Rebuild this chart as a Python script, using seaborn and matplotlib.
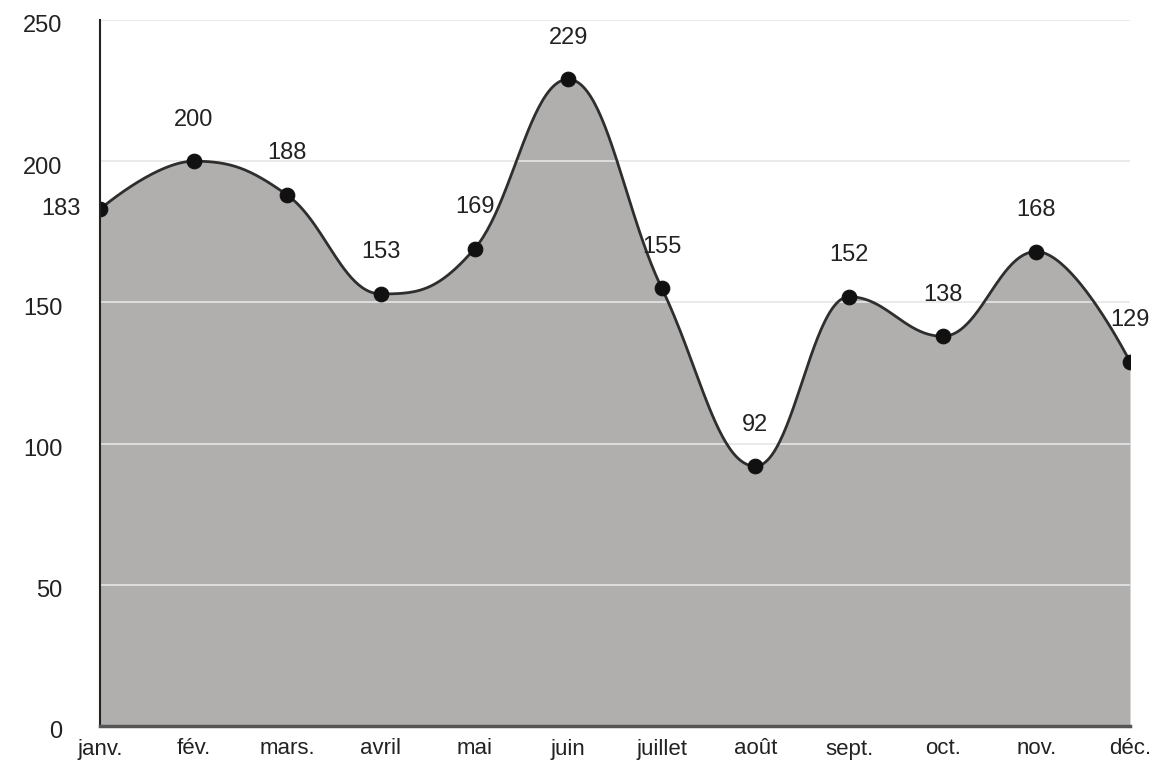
import numpy as np
import pandas as pd
import matplotlib
matplotlib.use("Agg")
import matplotlib.pyplot as plt
import matplotlib.transforms as mtransforms
import seaborn as sns

# Data

months = ["janv.", "fév.", "mars.", "avril", "mai", "juin",
          "juillet", "août", "sept.", "oct.", "nov.", "déc."]
values = [183, 200, 188, 153, 169, 229, 155, 92, 152, 138, 168, 129]
y_ticks = [0, 50, 100, 150, 200, 250]

sns.set_theme(style="white")
plt.rcParams["font.family"] = ["Liberation Sans", "DejaVu Sans"]


def spline_curve(x, y, n=50, smoothing=1.5):
    # bezier spline with flattened control points at local extremes
    x = np.asarray(x, float)
    y = np.asarray(y, float)
    k = len(x)
    denom = smoothing + 1
    lx, ly = x.copy(), y.copy()
    rx, ry = x.copy(), y.copy()
    for i in range(1, k - 1):
        lcx = (smoothing * x[i] + x[i - 1]) / denom
        lcy = (smoothing * y[i] + y[i - 1]) / denom
        rcx = (smoothing * x[i] + x[i + 1]) / denom
        rcy = (smoothing * y[i] + y[i + 1]) / denom
        corr = (rcy - lcy) * (rcx - x[i]) / (rcx - lcx) + y[i] - rcy
        lcy += corr
        rcy += corr
        if lcy > y[i - 1] and lcy > y[i]:
            lcy = max(y[i - 1], y[i])
            rcy = 2 * y[i] - lcy
        elif lcy < y[i - 1] and lcy < y[i]:
            lcy = min(y[i - 1], y[i])
            rcy = 2 * y[i] - lcy
        if rcy > y[i + 1] and rcy > y[i]:
            rcy = max(y[i + 1], y[i])
            lcy = 2 * y[i] - rcy
        elif rcy < y[i + 1] and rcy < y[i]:
            rcy = min(y[i + 1], y[i])
            lcy = 2 * y[i] - rcy
        lx[i], ly[i], rx[i], ry[i] = lcx, lcy, rcx, rcy
    xs, ys = [], []
    for i in range(k - 1):
        t = np.linspace(0, 1, n, endpoint=(i == k - 2))[:, None]
        p0 = np.array([x[i], y[i]])
        p1 = np.array([rx[i], ry[i]])
        p2 = np.array([lx[i + 1], ly[i + 1]])
        p3 = np.array([x[i + 1], y[i + 1]])
        pts = ((1 - t) ** 3) * p0 + 3 * ((1 - t) ** 2) * t * p1 \
            + 3 * (1 - t) * t ** 2 * p2 + t ** 3 * p3
        xs.append(pts[:, 0])
        ys.append(pts[:, 1])
    return np.concatenate(xs), np.concatenate(ys)


df = pd.DataFrame({"pos": np.arange(len(months)), "value": values})
cx, cy = spline_curve(df["pos"], df["value"])
curve = pd.DataFrame({"pos": cx, "value": cy})

fig = plt.figure(figsize=(11.53, 7.6), dpi=100)
ax = fig.add_axes([100 / 1153, 34 / 760, 1030 / 1153, 706 / 760])

ax.fill_between(curve["pos"], curve["value"], color="#b0afae", zorder=1, linewidth=0)
for t in y_ticks[1:]:
    ax.axhline(t, color="#e6e6e6", linewidth=1.2, zorder=2)
sns.lineplot(data=curve, x="pos", y="value", color="#2e2e2e", linewidth=2,
             ax=ax, zorder=3, sort=False)
sns.scatterplot(data=df, x="pos", y="value", color="#111111", s=110,
                edgecolor="#111111", ax=ax, zorder=4)

for i, v in enumerate(values):
    if i == 0:
        ax.annotate(str(v), (i, v), xytext=(-14, 0), textcoords="offset points",
                    ha="right", va="center", fontsize=17, color="#222222")
    else:
        ax.annotate(str(v), (i, v), xytext=(0, 30), textcoords="offset points",
                    ha="center", va="center", fontsize=17, color="#222222")

ax.set_xlim(0, len(months) - 1)
ax.set_ylim(0, 250)
ax.set_xticks(df["pos"])
ax.set_xticklabels(months, fontsize=16, color="#222222")
ax.set_yticks(y_ticks)
ax.set_yticklabels([str(t) for t in y_ticks], fontsize=17, color="#222222")
ax.tick_params(axis="x", length=0, pad=9)
ax.tick_params(axis="y", length=9, width=1.5, color="#222222", pad=18)
ax.set_xlabel("")
ax.set_ylabel("")

shift = mtransforms.ScaledTranslation(0, -4 / 100, fig.dpi_scale_trans)
for lab in ax.get_yticklabels():
    lab.set_transform(lab.get_transform() + shift)

for s in ["top", "right"]:
    ax.spines[s].set_visible(False)
ax.spines["left"].set_color("#222222")
ax.spines["left"].set_linewidth(1.5)
ax.spines["left"].set_zorder(5)
ax.spines["bottom"].set_color("#555555")
ax.spines["bottom"].set_linewidth(2.5)
ax.spines["bottom"].set_zorder(5)

fig.savefig("out.png", dpi=100)
